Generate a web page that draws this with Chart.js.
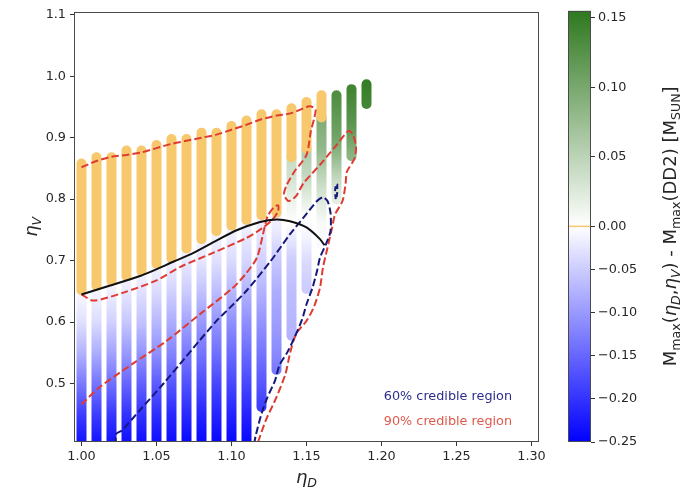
<!DOCTYPE html>
<html>
<head>
<meta charset="utf-8">
<script src="https://cdn.jsdelivr.net/npm/chart.js@4.4.1/dist/chart.umd.min.js"></script>
<style>
  html, body { margin: 0; padding: 0; background: #fff; }
  #wrap { position: relative; width: 698px; height: 493px; }
  #main { position: absolute; left: 0; top: 0; }
  #cbar { position: absolute; left: 540px; top: 0; }
</style>
</head>
<body>
<div id="wrap">
  <canvas id="main" width="698" height="493"></canvas>
  <canvas id="cbar" width="158" height="493"></canvas>
</div>
<script>
// =====================================================================
// Mmax(eta_D, eta_V) - Mmax(DD2) over the (eta_D, eta_V) grid
// =====================================================================

// ── Grid columns (eta_D) ──────────────────────────────────────────────
const etaD = [1.00, 1.01, 1.02, 1.03, 1.04, 1.05, 1.06, 1.07, 1.08, 1.09,
              1.10, 1.11, 1.12, 1.13, 1.14, 1.15, 1.16, 1.17, 1.18, 1.19];

// ── Mass difference along each column: [eta_V, delta in Msun] ─────────
const deltaStops = [
  [[0.40, -0.235], [0.45, -0.19], [0.50, -0.13], [0.55, -0.075], [0.60, -0.03], [0.652, -0.005]],
  [[0.40, -0.235], [0.45, -0.19], [0.50, -0.135], [0.55, -0.08], [0.60, -0.035], [0.659, -0.005]],
  [[0.40, -0.235], [0.45, -0.195], [0.50, -0.14], [0.55, -0.09], [0.60, -0.045], [0.667, -0.006]],
  [[0.40, -0.24], [0.45, -0.20], [0.50, -0.15], [0.55, -0.10], [0.60, -0.055], [0.675, -0.008]],
  [[0.40, -0.24], [0.45, -0.20], [0.50, -0.155], [0.55, -0.105], [0.60, -0.06], [0.683, -0.01]],
  [[0.40, -0.24], [0.45, -0.205], [0.50, -0.16], [0.55, -0.11], [0.60, -0.07], [0.65, -0.035], [0.695, -0.01]],
  [[0.40, -0.24], [0.45, -0.21], [0.50, -0.165], [0.55, -0.12], [0.60, -0.08], [0.65, -0.045], [0.704, -0.01]],
  [[0.40, -0.245], [0.45, -0.21], [0.50, -0.17], [0.55, -0.13], [0.60, -0.09], [0.65, -0.05], [0.72, -0.01]],
  [[0.40, -0.245], [0.45, -0.215], [0.50, -0.175], [0.55, -0.135], [0.60, -0.10], [0.65, -0.06], [0.70, -0.025], [0.735, -0.01]],
  [[0.40, -0.245], [0.45, -0.215], [0.50, -0.18], [0.55, -0.14], [0.60, -0.105], [0.65, -0.065], [0.70, -0.03], [0.748, -0.01]],
  [[0.40, -0.245], [0.45, -0.215], [0.50, -0.18], [0.55, -0.145], [0.60, -0.11], [0.65, -0.07], [0.70, -0.035], [0.757, -0.01]],
  [[0.40, -0.245], [0.45, -0.215], [0.50, -0.18], [0.55, -0.145], [0.60, -0.11], [0.65, -0.075], [0.70, -0.04], [0.766, -0.01]],
  [[0.462, -0.19], [0.50, -0.165], [0.55, -0.135], [0.60, -0.105], [0.65, -0.075], [0.70, -0.045], [0.774, -0.01]],
  [[0.522, -0.13], [0.55, -0.115], [0.60, -0.095], [0.65, -0.08], [0.70, -0.055], [0.75, -0.02], [0.778, -0.01]],
  [[0.578, -0.075], [0.65, -0.065], [0.70, -0.05], [0.74, -0.02], [0.76, 0.0], [0.80, 0.015], [0.84, 0.035], [0.868, 0.04]],
  [[0.654, -0.05], [0.70, -0.035], [0.74, -0.01], [0.77, 0.0], [0.80, 0.02], [0.84, 0.045], [0.882, 0.06]],
  [[0.725, -0.005], [0.76, 0.005], [0.80, 0.025], [0.84, 0.05], [0.88, 0.08], [0.933, 0.095]],
  [[0.80, 0.02], [0.83, 0.04], [0.87, 0.08], [0.90, 0.105], [0.969, 0.13]],
  [[0.87, 0.085], [0.92, 0.12], [0.979, 0.14]],
  [[0.955, 0.14], [0.987, 0.148]],
];

// ── eta_V range of the orange points in each column (null = none) ─────
const orangeBands = [
  [0.652, 0.858], [0.659, 0.868], [0.667, 0.868], [0.675, 0.879], [0.683, 0.879],
  [0.695, 0.888], [0.704, 0.898], [0.720, 0.898], [0.735, 0.908], [0.748, 0.908],
  [0.757, 0.919], [0.766, 0.928], [0.774, 0.938], [0.778, 0.938], [0.868, 0.948],
  [0.882, 0.958], [0.933, 0.969], null, null, null,
];

// ── 90% credible region (two open branches) ───────────────────────────
const contour90Upper = [
  [1.000, 0.852], [1.010, 0.862], [1.020, 0.869], [1.030, 0.872], [1.040, 0.876],
  [1.050, 0.883], [1.060, 0.890], [1.070, 0.895], [1.080, 0.900], [1.090, 0.905],
  [1.100, 0.913], [1.110, 0.921], [1.120, 0.930], [1.130, 0.936], [1.140, 0.940],
  [1.152, 0.951], [1.156, 0.946], [1.155, 0.930], [1.153, 0.912], [1.150, 0.872],
  [1.142, 0.845], [1.137, 0.824], [1.135, 0.808], [1.138, 0.797], [1.143, 0.805],
  [1.148, 0.826], [1.159, 0.856], [1.170, 0.888], [1.178, 0.911], [1.181, 0.905],
  [1.183, 0.885], [1.182, 0.866], [1.177, 0.845], [1.176, 0.824], [1.174, 0.797],
  [1.169, 0.775], [1.167, 0.753], [1.164, 0.721], [1.161, 0.689], [1.159, 0.656],
  [1.155, 0.625], [1.150, 0.602], [1.143, 0.581], [1.139, 0.549], [1.136, 0.516],
  [1.130, 0.478], [1.123, 0.441], [1.119, 0.414], [1.117, 0.400],
];
const contour90Lower = [
  [1.000, 0.466], [1.012, 0.494], [1.034, 0.532], [1.057, 0.570], [1.079, 0.613],
  [1.101, 0.656], [1.110, 0.680], [1.117, 0.705], [1.121, 0.743], [1.124, 0.772],
  [1.128, 0.786], [1.131, 0.790], [1.131, 0.780], [1.127, 0.766], [1.120, 0.752],
  [1.110, 0.737], [1.088, 0.713], [1.066, 0.690], [1.050, 0.668], [1.028, 0.648],
  [1.008, 0.635], [1.000, 0.645],
];

// ── 60% credible region ───────────────────────────────────────────────
const contour60 = [
  [1.023, 0.400], [1.023, 0.418], [1.027, 0.424], [1.039, 0.457], [1.055, 0.501],
  [1.066, 0.533], [1.078, 0.568], [1.090, 0.602], [1.100, 0.626], [1.110, 0.651],
  [1.126, 0.699], [1.139, 0.743], [1.150, 0.776], [1.157, 0.797], [1.161, 0.803],
  [1.164, 0.797], [1.166, 0.778], [1.166, 0.748], [1.163, 0.727], [1.159, 0.705],
  [1.157, 0.683], [1.154, 0.656], [1.150, 0.629], [1.147, 0.604], [1.142, 0.575],
  [1.137, 0.550], [1.132, 0.530], [1.129, 0.505], [1.124, 0.478], [1.120, 0.451],
  [1.116, 0.414], [1.115, 0.400],
];
const contour60Island = [
  [1.1695, 0.800], [1.1690, 0.812], [1.1695, 0.824], [1.1705, 0.824], [1.1705, 0.812], [1.1700, 0.800],
];

// ── Zero-difference curve (solid black) ───────────────────────────────
const zeroCurve = [
  [1.000, 0.645], [1.017, 0.658], [1.039, 0.675], [1.062, 0.699], [1.075, 0.713],
  [1.088, 0.730], [1.103, 0.749], [1.119, 0.763], [1.130, 0.767], [1.139, 0.764],
  [1.150, 0.754], [1.159, 0.735], [1.162, 0.725],
];

// ── Tick values ───────────────────────────────────────────────────────
const xTicks = [1.00, 1.05, 1.10, 1.15, 1.20, 1.25, 1.30];
const yTicks = [0.5, 0.6, 0.7, 0.8, 0.9, 1.0, 1.1];
const cbarTicks = [-0.25, -0.20, -0.15, -0.10, -0.05, 0.00, 0.05, 0.10, 0.15];

// ── Colour scale (two slopes around zero) ─────────────────────────────
const DELTA_MIN = -0.25, DELTA_MAX = 0.155;
const GREEN_END = [46, 120, 30];
const ORANGE = 'rgb(248, 200, 108)';
const RED = '#de3b33';
const NAVY = '#16187a';
const TEXT = '#262626';
const FONT = '"DejaVu Sans", sans-serif';
const TICK_SIZE = 12.8;

function norm(d) {
  if (d < 0) return Math.max(0, 0.5 * (1 + d / -DELTA_MIN));
  return Math.min(1, 0.5 + 0.5 * d / DELTA_MAX);
}

function deltaColor(d) {
  const u = norm(d);
  if (u <= 0.5) {
    const f = u / 0.5; // 0 = blue, 1 = white
    return `rgb(${Math.round(255 * f)}, ${Math.round(255 * f)}, 255)`;
  }
  const f = (u - 0.5) / 0.5;
  const c = GREEN_END.map(g => Math.round(255 + (g - 255) * f));
  return `rgb(${c[0]}, ${c[1]}, ${c[2]})`;
}

const toXY = pts => pts.map(([x, y]) => ({ x, y }));

// vertical gradient for one grid column, stops placed through the y scale
function columnGradient(chart, i) {
  const { ctx, chartArea, scales } = chart;
  if (!chartArea) return null;
  const stops = deltaStops[i];
  const y0 = scales.y.getPixelForValue(stops[0][0]);
  const y1 = scales.y.getPixelForValue(stops[stops.length - 1][0]);
  const g = ctx.createLinearGradient(0, y0, 0, y1);
  stops.forEach(([v, d]) => {
    const t = (scales.y.getPixelForValue(v) - y0) / (y1 - y0);
    g.addColorStop(Math.min(1, Math.max(0, t)), deltaColor(d));
  });
  return g;
}

// ── Small mathtext-like renderer (italic symbols + subscripts) ────────
function drawMath(ctx, runs, x, y, size, rotate) {
  ctx.save();
  ctx.translate(x, y);
  if (rotate) ctx.rotate(-Math.PI / 2);
  ctx.fillStyle = TEXT;
  ctx.textBaseline = 'alphabetic';
  ctx.textAlign = 'left';
  const fontOf = r => `${r.it ? 'italic ' : ''}${r.sub ? size * 0.7 : size}px ${FONT}`;
  let total = 0;
  const widths = runs.map(r => {
    ctx.font = fontOf(r);
    const w = ctx.measureText(r.t).width;
    total += w;
    return w;
  });
  let cx = -total / 2;
  runs.forEach((r, k) => {
    ctx.font = fontOf(r);
    ctx.fillText(r.t, cx, r.sub ? size * 0.22 : 0);
    cx += widths[k];
  });
  ctx.restore();
}

// ── Datasets ──────────────────────────────────────────────────────────
const datasets = [];

const lineStyle = (color, dashed) => ({
  showLine: true,
  borderColor: color,
  borderWidth: 2,
  borderDash: dashed ? [7.4, 3.2] : [],
  borderCapStyle: 'butt',
  borderJoinStyle: 'round',
  pointRadius: 0,
  tension: 0.25,
  fill: false,
  clip: 0,
  order: 0,
});

datasets.push({ data: toXY(zeroCurve), ...lineStyle('#111111', false) });
datasets.push({ data: toXY(contour60), ...lineStyle(NAVY, true) });
datasets.push({ data: toXY(contour60Island), ...lineStyle(NAVY, true), borderDash: [5, 3], tension: 0 });
datasets.push({ data: toXY(contour90Upper), ...lineStyle(RED, true) });
datasets.push({ data: toXY(contour90Lower), ...lineStyle(RED, true) });

orangeBands.forEach((band, i) => {
  if (!band) return;
  datasets.push({
    data: [{ x: etaD[i], y: band[0] }, { x: etaD[i], y: band[1] }],
    showLine: true,
    borderColor: ORANGE,
    borderWidth: 10,
    borderCapStyle: 'round',
    pointRadius: 0,
    clip: 0,
    order: 10,
  });
});

etaD.forEach((x, i) => {
  datasets.push({
    data: deltaStops[i].map(([y]) => ({ x, y })),
    showLine: true,
    borderColor: ctx => columnGradient(ctx.chart, i),
    borderWidth: 10,
    borderCapStyle: 'round',
    pointRadius: 0,
    clip: 0,
    order: 20,
  });
});

// ── Plugins for the main panel ────────────────────────────────────────
const mainDecor = {
  id: 'mainDecor',
  afterDraw(chart) {
    const { ctx, chartArea: a } = chart;
    ctx.save();
    ctx.strokeStyle = '#4a4a4a';
    ctx.lineWidth = 1;
    ctx.strokeRect(Math.round(a.left) + 0.5, Math.round(a.top) + 0.5,
                   Math.round(a.right - a.left) - 1, Math.round(a.bottom - a.top) - 1);

    ctx.font = `${TICK_SIZE}px ${FONT}`;
    ctx.textAlign = 'right';
    ctx.textBaseline = 'middle';
    ctx.fillStyle = '#2c2c8e';
    ctx.fillText('60% credible region', a.right - 27, a.bottom - 45);
    ctx.fillStyle = '#e0594c';
    ctx.fillText('90% credible region', a.right - 27, a.bottom - 20);
    ctx.restore();

    drawMath(ctx, [{ t: 'η', it: true }, { t: 'D', it: true, sub: true }],
             (a.left + a.right) / 2, 483, 18, false);
    drawMath(ctx, [{ t: 'η', it: true }, { t: 'V', it: true, sub: true }],
             37, (a.top + a.bottom) / 2, 18, true);
  }
};

const tickFont = { family: FONT, size: TICK_SIZE };

new Chart(document.getElementById('main'), {
  type: 'scatter',
  data: { datasets },
  options: {
    responsive: false,
    animation: false,
    devicePixelRatio: 1,
    events: [],
    layout: { padding: { left: 0, right: 159, top: 9, bottom: 0 } },
    plugins: { legend: { display: false }, tooltip: { enabled: false } },
    scales: {
      x: {
        type: 'linear',
        min: 0.995,
        max: 1.305,
        afterBuildTicks: s => { s.ticks = xTicks.map(value => ({ value })); },
        afterFit: s => { s.height = 51; },
        ticks: {
          callback: v => v.toFixed(2),
          font: tickFont, color: TEXT, padding: 3,
          autoSkip: false, maxRotation: 0,
        },
        grid: { drawOnChartArea: false, drawTicks: true, tickLength: 4, color: '#333' },
        border: { display: false },
      },
      y: {
        type: 'linear',
        min: 0.405,
        max: 1.105,
        afterBuildTicks: s => { s.ticks = yTicks.map(value => ({ value })); },
        afterFit: s => { s.width = 74; },
        ticks: {
          callback: v => v.toFixed(1),
          font: tickFont, color: TEXT, padding: 4,
          autoSkip: false,
        },
        grid: { drawOnChartArea: false, drawTicks: true, tickLength: 4, color: '#333' },
        border: { display: false },
      },
    },
  },
  plugins: [mainDecor],
});

// ── Colour bar ────────────────────────────────────────────────────────
const cbarDecor = {
  id: 'cbarDecor',
  afterDatasetsDraw(chart) {
    const { ctx, chartArea: a, scales } = chart;
    ctx.save();
    // zero level marker
    const y0 = scales.y.getPixelForValue(norm(0));
    ctx.strokeStyle = ORANGE;
    ctx.lineWidth = 1.5;
    ctx.beginPath();
    ctx.moveTo(a.left, y0);
    ctx.lineTo(a.right, y0);
    ctx.stroke();
    ctx.strokeStyle = '#4a4a4a';
    ctx.lineWidth = 1;
    ctx.strokeRect(Math.round(a.left) + 0.5, Math.round(a.top) + 0.5,
                   Math.round(a.right - a.left) - 1, Math.round(a.bottom - a.top) - 1);
    ctx.restore();

    drawMath(ctx, [
      { t: 'M' }, { t: 'max', sub: true }, { t: '(' },
      { t: 'η', it: true }, { t: 'D', it: true, sub: true }, { t: ',' },
      { t: 'η', it: true }, { t: 'V', it: true, sub: true },
      { t: ') - M' }, { t: 'max', sub: true }, { t: '(DD2) [M' },
      { t: 'SUN', sub: true }, { t: ']' },
    ], 136, (a.top + a.bottom) / 2, 18, true);
  }
};

const fmtDelta = d => (d < 0 ? '\u2212' + Math.abs(d).toFixed(2) : d.toFixed(2));

new Chart(document.getElementById('cbar'), {
  type: 'bar',
  data: {
    labels: ['cb'],
    datasets: [{
      data: [[0, 1]],
      backgroundColor: ctx => {
        const { ctx: c, chartArea } = ctx.chart;
        if (!chartArea) return null;
        const g = c.createLinearGradient(0, chartArea.bottom, 0, chartArea.top);
        g.addColorStop(0, deltaColor(DELTA_MIN));
        g.addColorStop(0.5, deltaColor(0));
        g.addColorStop(1, deltaColor(DELTA_MAX));
        return g;
      },
      borderWidth: 0,
      barPercentage: 1,
      categoryPercentage: 1,
    }],
  },
  options: {
    responsive: false,
    animation: false,
    devicePixelRatio: 1,
    events: [],
    layout: { padding: { left: 28, right: 0, top: 9, bottom: 51 } },
    plugins: { legend: { display: false }, tooltip: { enabled: false } },
    scales: {
      x: { display: false },
      y: {
        type: 'linear',
        position: 'right',
        min: 0,
        max: 1,
        afterBuildTicks: s => { s.ticks = cbarTicks.map(d => ({ value: norm(d) })); },
        afterFit: s => { s.width = 107; },
        ticks: {
          callback: (v, idx) => fmtDelta(cbarTicks[idx]),
          font: tickFont, color: TEXT, padding: 3, autoSkip: false,
        },
        grid: { drawOnChartArea: false, drawTicks: true, tickLength: 4, color: '#333' },
        border: { display: false },
      },
    },
  },
  plugins: [cbarDecor],
});
</script>
</body>
</html>
